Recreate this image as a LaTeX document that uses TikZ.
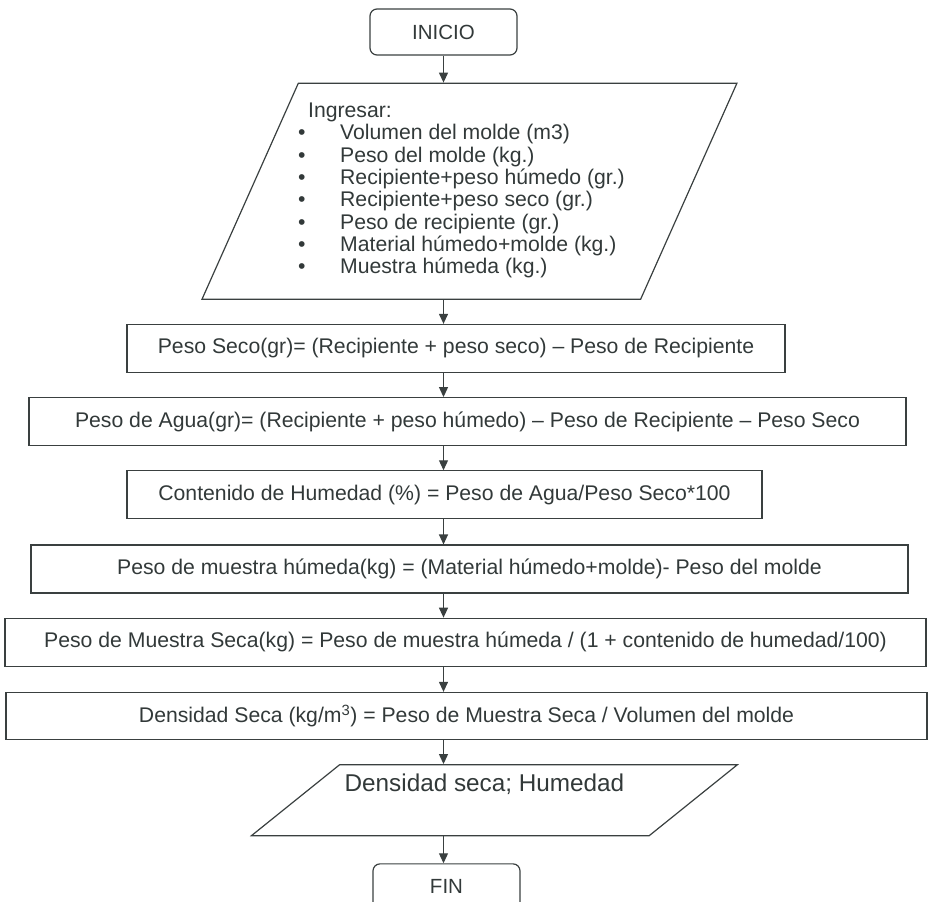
\documentclass[tikz,border=0pt]{standalone}
\usepackage{fontspec}
\setsansfont{Liberation Sans}
\definecolor{ink}{RGB}{58, 64, 64}
\definecolor{inktext}{RGB}{50, 57, 57}
\usetikzlibrary{arrows.meta, positioning, shapes.geometric}
\tikzset{
	terminal/.style={rectangle, rounded corners=7pt, draw=ink, line width=1.2pt, minimum width=147pt, minimum height=46pt, text=inktext, font=\sffamily\fontsize{20.5}{23}\selectfont},
	proc/.style={rectangle, draw=ink, line width=1.2pt, minimum height=48pt, inner sep=2pt, text=inktext, font=\sffamily\fontsize{21.2}{24}\selectfont},
	inputio/.style={trapezium, trapezium left angle=63.9, trapezium right angle=116.1, trapezium stretches=true, draw=ink, line width=1.2pt, inner sep=0pt, text=inktext, font=\sffamily\fontsize{21.2}{22.3}\selectfont},
	outputio/.style={trapezium, trapezium left angle=36.5, trapezium right angle=143.5, trapezium stretches=true, draw=ink, line width=1.2pt, inner sep=2pt, text=inktext, font=\sffamily\fontsize{24.3}{28}\selectfont},
	arrow/.style={-{Triangle[length=10pt, width=9pt]}, line width=1.2pt, draw=ink},
}

\begin{document}
\begin{tikzpicture}[x=1pt, y=-1pt, node distance=24pt]
	\useasboundingbox (0,0) rectangle (929,902);
	\node[terminal] (inicio) at (443.5,32) {INICIO};
	\node[inputio, below=27pt of inicio, xshift=26pt, minimum width=535pt, minimum height=216pt] (datos) {\hspace*{-16pt}\begin{tabular}{@{}p{42pt}@{}l@{}}
		\multicolumn{2}{@{\hspace{10pt}}l@{}}{Ingresar:}\\
		\textbullet & Volumen del molde (m3)\\
		\textbullet & Peso del molde (kg.)\\
		\textbullet & Recipiente+peso húmedo (gr.)\\
		\textbullet & Recipiente+peso seco (gr.)\\
		\textbullet & Peso de recipiente (gr.)\\
		\textbullet & Material húmedo+molde (kg.)\\
		\textbullet & Muestra húmeda (kg.)
	\end{tabular}};
	\node[proc, below=of datos, xshift=-13.5pt, minimum width=658pt] (pseco) {Peso Seco(gr)= (Recipiente + peso seco) -- Peso de Recipiente};
	\node[proc, below=of pseco, xshift=11.5pt, minimum width=877pt] (pagua) {Peso de Agua(gr)= (Recipiente + peso húmedo) -- Peso de Recipiente -- Peso Seco};
	\node[proc, below=of pagua, xshift=-23pt, minimum width=635pt] (humedad) {Contenido de Humedad (\%) = Peso de Agua/Peso Seco*100};
	\node[proc, below=25pt of humedad, xshift=25pt, minimum width=877pt] (phumeda) {Peso de muestra húmeda(kg) = (Material húmedo+molde)- Peso del molde};
	\node[proc, below=of phumeda, xshift=-4pt, minimum width=921pt] (mseca) {Peso de Muestra Seca(kg) = Peso de muestra húmeda / (1 + contenido de humedad/100)};
	\node[proc, below=25pt of mseca, xshift=1pt, minimum width=921pt, minimum height=47pt] (densidad) {Densidad Seca (kg/m\textsuperscript{3}) = Peso de Muestra Seca / Volumen del molde};
	\node[outputio, below=of densidad, xshift=28pt, minimum width=487pt, minimum height=71pt, text depth=34pt] (salida) {\hspace*{-20pt}Densidad seca; Humedad};
	\node[terminal, below=27pt of salida, xshift=-48pt, minimum height=45pt] (fin) {FIN};
	\draw[arrow] (inicio.south) -- (inicio.south |- datos.north);
	\draw[arrow] (datos.south -| inicio) -- (pseco.north -| inicio);
	\draw[arrow] (pseco.south -| inicio) -- (pagua.north -| inicio);
	\draw[arrow] (pagua.south -| inicio) -- (humedad.north -| inicio);
	\draw[arrow] (humedad.south -| inicio) -- (phumeda.north -| inicio);
	\draw[arrow] (phumeda.south -| inicio) -- (mseca.north -| inicio);
	\draw[arrow] (mseca.south -| inicio) -- (densidad.north -| inicio);
	\draw[arrow] (densidad.south -| inicio) -- (salida.north -| inicio);
	\draw[arrow] (salida.south -| inicio) -- (fin.north -| inicio);
\end{tikzpicture}
\end{document}
